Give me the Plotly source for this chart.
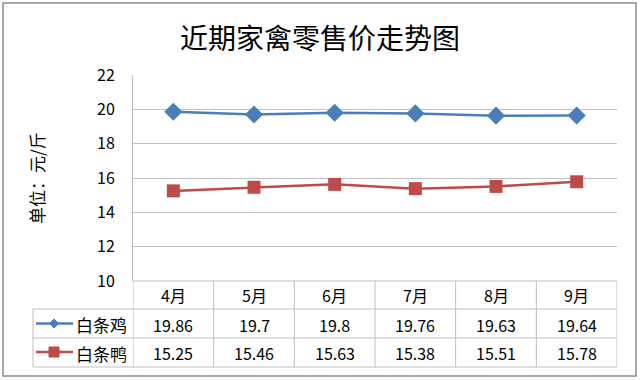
import plotly.graph_objects as go

months = ["4月", "5月", "6月", "7月", "8月", "9月"]
chicken = [19.86, 19.7, 19.8, 19.76, 19.63, 19.64]
duck = [15.25, 15.46, 15.63, 15.38, 15.51, 15.78]
series_names = ["白条鸡", "白条鸭"]
y_ticks = [10, 12, 14, 16, 18, 20, 22]
title_text = "近期家禽零售价走势图"
y_title = "单位：元/斤"

BLUE = "#4A7EBB"
RED = "#BE4B48"
GRID = "#BFBFBF"
FONT = "Noto Sans CJK SC"

W, H = 640, 380
L, R, T, B = 133, 617, 75, 281
pw, ph = R - L, B - T


def px(x):
    return (x - L) / pw


def py(y):
    return (B - y) / ph


idx = list(range(len(months)))
fig = go.Figure()
fig.add_trace(go.Scatter(x=idx, y=chicken, mode="lines+markers", name=series_names[0],
                         line=dict(color=BLUE, width=2.5),
                         marker=dict(symbol="diamond", size=14, color=BLUE)))
fig.add_trace(go.Scatter(x=idx, y=duck, mode="lines+markers", name=series_names[1],
                         line=dict(color=RED, width=2.5),
                         marker=dict(symbol="square", size=13, color=RED)))

shapes = []
shapes.append(dict(type="rect", xref="paper", yref="paper", x0=px(3), x1=px(636), y0=py(376), y1=py(3),
                   line=dict(color="#8C8C8C", width=1.5), layer="below"))
row_y = [281, 309, 338, 367]
for i, yy in enumerate(row_y):
    shapes.append(dict(type="line", xref="paper", yref="paper",
                       x0=px(133) if i == 0 else px(33), x1=px(617), y0=py(yy), y1=py(yy),
                       line=dict(color=GRID, width=1)))
for k in range(len(months) + 1):
    shapes.append(dict(type="line", xref="x", yref="paper", x0=k - 0.5, x1=k - 0.5,
                       y0=py(367), y1=py(281), line=dict(color=GRID, width=1)))
shapes.append(dict(type="line", xref="paper", yref="paper", x0=px(33), x1=px(33),
                   y0=py(367), y1=py(309), line=dict(color=GRID, width=1)))

TXT = dict(size=16, color="#000", family=FONT)
annotations = []
for i, m in enumerate(months):
    annotations.append(dict(x=i, y=py(294.5), xref="x", yref="paper", text=m, showarrow=False,
                            xanchor="center", yanchor="middle", font=TXT))
rows = [chicken, duck]
row_centers = [324.5, 353]
colors = [BLUE, RED]
for r, vals in enumerate(rows):
    for i, v in enumerate(vals):
        annotations.append(dict(x=i, y=py(row_centers[r]), xref="x", yref="paper", text=f"{v:g}",
                                showarrow=False, xanchor="center", yanchor="middle", font=TXT))
    annotations.append(dict(x=px(129), y=py(row_centers[r]), xref="paper", yref="paper",
                            text=series_names[r], showarrow=False, xanchor="right", yanchor="middle",
                            font=dict(size=17, color="#000", family=FONT)))
    yc = py(row_centers[r] - 1)
    shapes.append(dict(type="line", xref="paper", yref="paper", x0=px(36), x1=px(73), y0=yc, y1=yc,
                       line=dict(color=colors[r], width=2.5)))
    cx, cy = 54, row_centers[r] - 1
    if r == 0:
        d = 4.5
        path = (f"M {px(cx - d)} {py(cy)} L {px(cx)} {py(cy - d)} L {px(cx + d)} {py(cy)} "
                f"L {px(cx)} {py(cy + d)} Z")
        shapes.append(dict(type="path", xref="paper", yref="paper", path=path,
                           fillcolor=colors[r], line=dict(color=colors[r], width=1)))
    else:
        d = 5
        shapes.append(dict(type="rect", xref="paper", yref="paper", x0=px(cx - d), x1=px(cx + d),
                           y0=py(cy + d), y1=py(cy - d), fillcolor=colors[r],
                           line=dict(color=colors[r], width=1)))

annotations.append(dict(x=px(320), y=py(37), xref="paper", yref="paper", text=title_text,
                        showarrow=False, xanchor="center", yanchor="middle",
                        font=dict(size=28, color="#000", family=FONT)))
annotations.append(dict(x=px(36), y=py(178), xref="paper", yref="paper", text=y_title,
                        showarrow=False, textangle=-90, xanchor="center", yanchor="middle",
                        font=dict(size=17, color="#000", family=FONT)))

fig.update_layout(
    width=W, height=H,
    margin=dict(l=L, r=W - R, t=T, b=H - B),
    paper_bgcolor="white", plot_bgcolor="white",
    showlegend=False,
    font=dict(family=FONT, color="#000"),
    shapes=shapes, annotations=annotations,
    xaxis=dict(range=[-0.5, len(months) - 0.5], showticklabels=False, showgrid=False,
               zeroline=False, showline=False, ticks=""),
    yaxis=dict(range=[10, 22], tickvals=y_ticks, showgrid=True, gridcolor=GRID, gridwidth=1,
               zeroline=False, showline=True, linecolor=GRID, linewidth=1, ticks="",
               tickfont=dict(size=16, family=FONT, color="#000"), ticklabelstandoff=14),
)

fig.write_html("out.html")
